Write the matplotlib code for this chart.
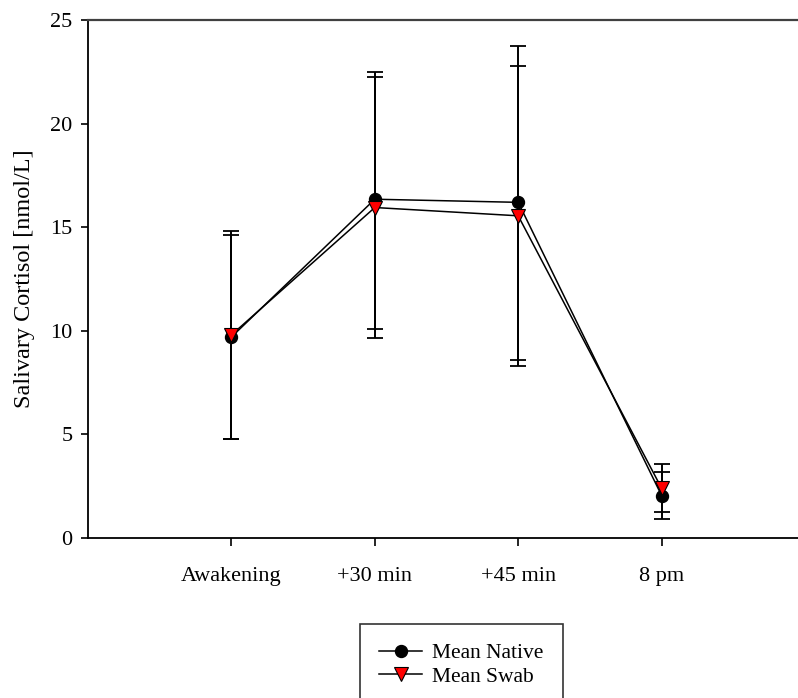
import numpy as np
import matplotlib
matplotlib.use("Agg")
import matplotlib.pyplot as plt

plt.rcParams['font.family'] = ['Liberation Serif', 'DejaVu Serif']

# data
times = ['Awakening', '+30 min', '+45 min', '8 pm']

native_mean = [9.7, 16.35, 16.2, 2.05]
native_upper = [14.6, 22.5, 23.75, 3.2]
native_lower = [4.8, 10.1, 8.6, 0.9]

swab_mean = [9.8, 15.95, 15.55, 2.4]
swab_upper = [14.8, 22.25, 22.8, 3.55]
swab_lower = [4.8, 9.65, 8.3, 1.25]

yticks = [0, 5, 10, 15, 20, 25]

fig = plt.figure(figsize=(7.98, 6.98), dpi=100)
ax = fig.add_axes([88/798, 1 - 538/698, 717/798, 518/698])

x = np.arange(1, len(times) + 1)

def err(mean, lo, hi):
    mean = np.array(mean)
    return np.vstack([mean - np.array(lo), np.array(hi) - mean])

ax.errorbar(x, native_mean, yerr=err(native_mean, native_lower, native_upper),
            fmt='none', ecolor='black', elinewidth=1.4, capsize=5.8, capthick=1.3, zorder=2)
ax.errorbar(x, swab_mean, yerr=err(swab_mean, swab_lower, swab_upper),
            fmt='none', ecolor='black', elinewidth=1.4, capsize=5.8, capthick=1.3, zorder=2)

ax.plot(x, native_mean, color='black', lw=1.1, marker='o', ms=8.6,
        mfc='black', mec='black', label='Mean Native', zorder=3)
ax.plot(x, swab_mean, color='black', lw=1.1, marker='v', ms=9.5,
        mfc='red', mec='black', mew=0.8, label='Mean Swab', zorder=4)

ax.set_xlim(0, 5)
ax.set_ylim(0, 25)
ax.set_xticks(x)
ax.set_xticklabels(times)
ax.set_yticks(yticks)
ax.tick_params(axis='y', direction='out', length=5, width=1.2, pad=6, labelsize=16)
ax.tick_params(axis='x', direction='out', length=6, width=1.2, pad=15, labelsize=16)
ax.set_ylabel('Salivary Cortisol [nmol/L]', fontsize=17.5, labelpad=11)

ax.spines['right'].set_visible(False)
ax.spines['left'].set_linewidth(1.3)
ax.spines['bottom'].set_linewidth(1.3)
ax.spines['top'].set_linewidth(1.6)
ax.spines['top'].set_color('#404040')

leg = fig.legend(loc='upper left', bbox_to_anchor=(360/798, 1 - 624/698),
                 frameon=True, fancybox=False, edgecolor='black', fontsize=15.5,
                 borderpad=0.9, labelspacing=0.15, handlelength=2.0,
                 handletextpad=0.45, borderaxespad=0, numpoints=1)
leg.get_frame().set_linewidth(1.2)

fig.savefig('out.png', dpi=100)
